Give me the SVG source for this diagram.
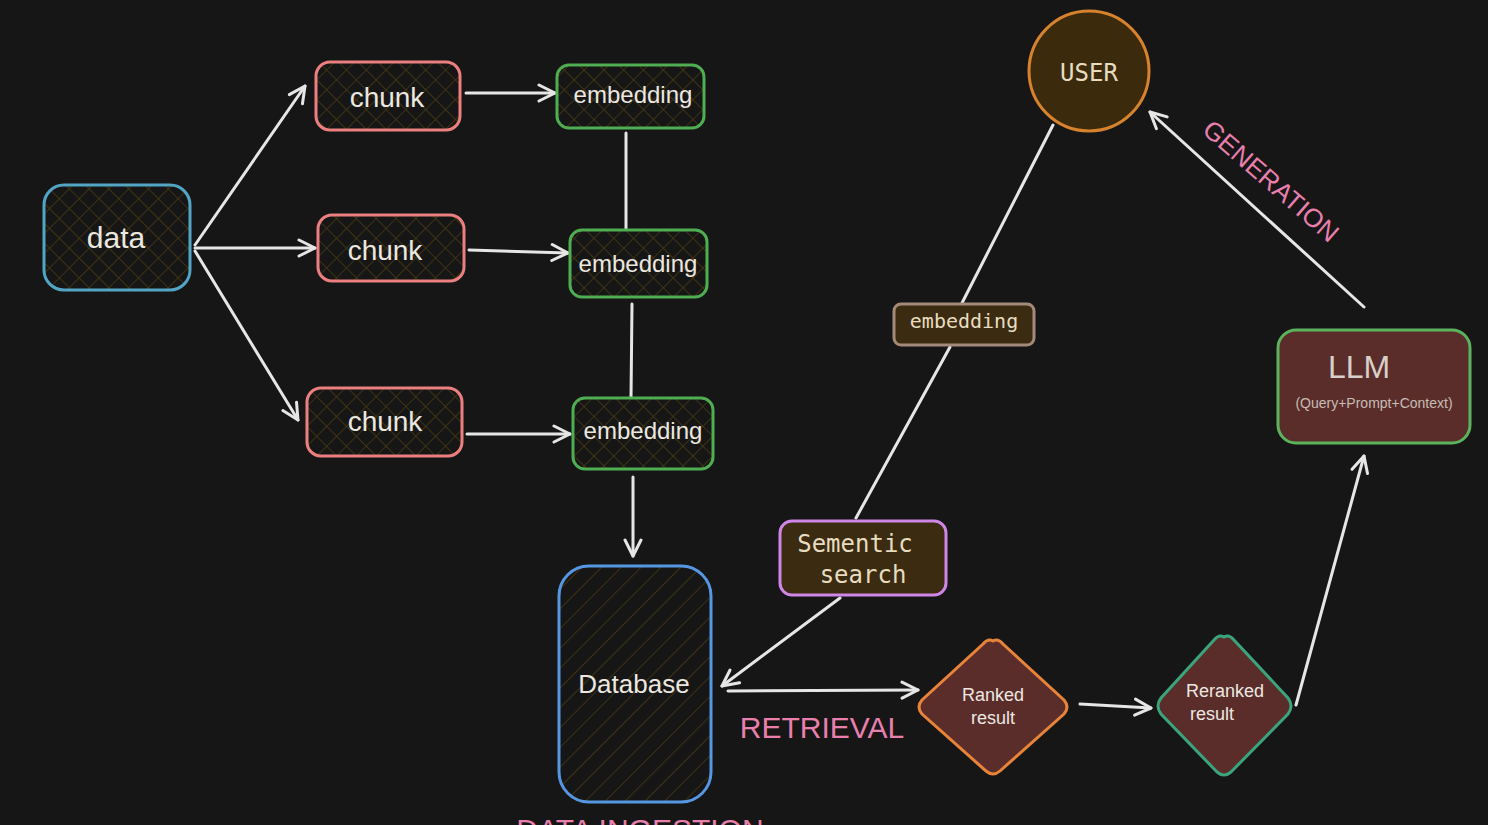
<svg xmlns="http://www.w3.org/2000/svg" width="1488" height="825" viewBox="0 0 1488 825">
<defs>
<pattern id="xh" width="14" height="14" patternUnits="userSpaceOnUse" patternTransform="rotate(45)">
<rect width="14" height="14" fill="#161616"/>
<path d="M0,0 L0,14 M0,0 L14,0" stroke="#4a3c12" stroke-width="1.4"/>
</pattern>
<pattern id="dh" width="14" height="14" patternUnits="userSpaceOnUse" patternTransform="rotate(45)">
<rect width="14" height="14" fill="#161616"/>
<path d="M0,0 L0,14" stroke="#4f3c12" stroke-width="1.4"/>
</pattern>
<marker id="ah" viewBox="0 0 20 20" refX="18" refY="10" markerWidth="20" markerHeight="20" markerUnits="userSpaceOnUse" orient="auto">
<path d="M2,2 L18,10 L2,18" fill="none" stroke="#e6e6e6" stroke-width="3" stroke-linecap="round" stroke-linejoin="round"/>
</marker>
</defs>
<style>
.hand{font-family:"Liberation Sans","DejaVu Sans",sans-serif;fill:#ece8e0;text-anchor:middle;dominant-baseline:central}
.mono{font-family:"DejaVu Sans Mono","Liberation Mono",monospace;fill:#e8dcc0;text-anchor:middle;dominant-baseline:central}
.pink{font-family:"Liberation Sans","DejaVu Sans",sans-serif;fill:#e97fad;text-anchor:middle;dominant-baseline:central}
.conn line,.conn path{stroke:#e6e6e6;stroke-width:3;fill:none;stroke-linecap:round}
.arr{marker-end:url(#ah)}
.chunk{fill:url(#xh);stroke:#ec7f7f;stroke-width:3}
.emb{fill:url(#xh);stroke:#4fae52;stroke-width:3}
</style>
<rect width="1488" height="825" fill="#161616"/>

<g id="connectors" class="conn">
<line class="arr" x1="195" y1="245" x2="305" y2="86"/>
<line class="arr" x1="195" y1="248" x2="315" y2="248"/>
<line class="arr" x1="195" y1="251" x2="298" y2="420"/>
<line class="arr" x1="466" y1="93" x2="555" y2="93"/>
<line class="arr" x1="469" y1="250" x2="568" y2="253"/>
<line class="arr" x1="467" y1="434" x2="570" y2="434"/>
<line x1="626" y1="133" x2="626" y2="230"/>
<line x1="632" y1="304" x2="631" y2="398"/>
<line class="arr" x1="633" y1="477" x2="633" y2="556"/>
<line class="arr" x1="840" y1="598" x2="722" y2="686"/>
<line class="arr" x1="728" y1="691" x2="918" y2="690"/>
<line class="arr" x1="1080" y1="704" x2="1151" y2="708"/>
<line class="arr" x1="1296" y1="705" x2="1364" y2="456"/>
<line class="arr" x1="1364" y1="307" x2="1150" y2="112"/>
<line x1="1053" y1="125" x2="962" y2="303"/>
<line x1="950" y1="347" x2="856" y2="518"/>
</g>

<g id="data">
<rect x="44" y="185" width="146" height="105" rx="20" fill="url(#xh)" stroke="#52a5c4" stroke-width="3"/>
<text class="hand" x="116" y="237" font-size="30">data</text>
</g>
<g id="chunk1">
<rect class="chunk" x="316" y="62" width="144" height="68" rx="14"/>
<text class="hand" x="387" y="97" font-size="28">chunk</text>
</g>
<g id="chunk2">
<rect class="chunk" x="318" y="215" width="146" height="66" rx="14"/>
<text class="hand" x="385" y="250" font-size="28">chunk</text>
</g>
<g id="chunk3">
<rect class="chunk" x="307" y="388" width="155" height="68" rx="14"/>
<text class="hand" x="385" y="421" font-size="28">chunk</text>
</g>
<g id="embedding1">
<rect class="emb" x="557" y="65" width="147" height="63" rx="12"/>
<text class="hand" x="633" y="94" font-size="24">embedding</text>
</g>
<g id="embedding2">
<rect class="emb" x="570" y="230" width="137" height="67" rx="12"/>
<text class="hand" x="638" y="263" font-size="24">embedding</text>
</g>
<g id="embedding3">
<rect class="emb" x="573" y="398" width="140" height="71" rx="12"/>
<text class="hand" x="643" y="430" font-size="24">embedding</text>
</g>
<g id="database">
<rect x="559" y="566" width="152" height="236" rx="30" fill="url(#dh)" stroke="#5597e0" stroke-width="3"/>
<text class="hand" x="634" y="684" font-size="26">Database</text>
</g>
<g id="sementic-search">
<rect x="780" y="521" width="166" height="74" rx="12" fill="#3b2b10" stroke="#cf86e6" stroke-width="3"/>
<text class="mono" x="855" y="544" font-size="24">Sementic</text>
<text class="mono" x="863" y="575" font-size="24">search</text>
</g>
<g id="embedding-query">
<rect x="894" y="304" width="140" height="41" rx="7" fill="#3b2b10" stroke="#a48a7a" stroke-width="3"/>
<text class="mono" x="964" y="321" font-size="20">embedding</text>
</g>
<g id="user">
<circle cx="1089" cy="71" r="60" fill="#3b2a0c" stroke="#d7822c" stroke-width="3"/>
<text class="mono" x="1089" y="73" font-size="24">USER</text>
</g>
<g id="llm">
<rect x="1278" y="330" width="192" height="113" rx="18" fill="#5a2d2b" stroke="#5bb35c" stroke-width="3"/>
<text x="1359" y="367" font-size="32" font-family="Liberation Sans, sans-serif" fill="#d8cfc8" text-anchor="middle" dominant-baseline="central">LLM</text>
<text x="1374" y="403" font-size="14" font-family="Liberation Sans, sans-serif" fill="#c8bcb4" text-anchor="middle" dominant-baseline="central">(Query+Prompt+Context)</text>
</g>
<g id="ranked-result">
<path d="M993,641 Q998,638 1003,644 L1064,700 Q1070,707 1064,714 L1000,771 Q993,777 986,771 L922,714 Q916,707 922,700 L983,644 Q988,638 993,641 Z" fill="#5a2d2b" stroke="#e8843a" stroke-width="3"/>
<text class="hand" x="993" y="695" font-size="18">Ranked</text>
<text class="hand" x="993" y="718" font-size="18">result</text>
</g>
<g id="reranked-result">
<path d="M1224,637 Q1229,634 1234,640 L1288,698 Q1294,706 1288,714 L1231,772 Q1224,778 1217,772 L1161,714 Q1155,706 1161,698 L1214,640 Q1219,634 1224,637 Z" fill="#5a2d2b" stroke="#3aa57c" stroke-width="3"/>
<text class="hand" x="1225" y="691" font-size="18">Reranked</text>
<text class="hand" x="1212" y="714" font-size="18">result</text>
</g>
<g id="labels">
<text class="pink" x="822" y="727" font-size="30">RETRIEVAL</text>
<text class="pink" x="1271" y="181" font-size="26" transform="rotate(41 1271 181)">GENERATION</text>
<text x="640" y="840" font-size="30" font-family="Liberation Sans, sans-serif" fill="#e97fad" text-anchor="middle">DATA INGESTION</text>
</g>
</svg>
